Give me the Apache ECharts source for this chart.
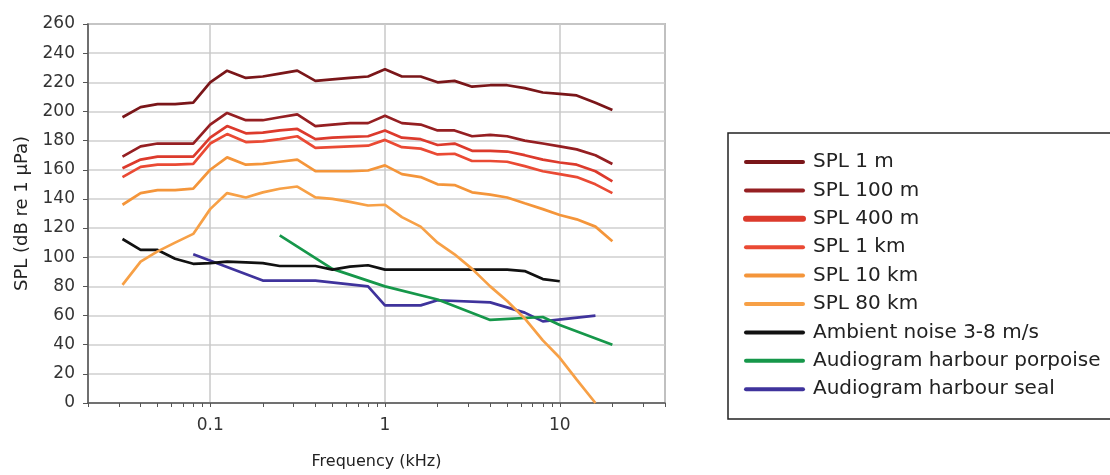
<!DOCTYPE html>
<html>
<head>
<meta charset="utf-8">
<script src="https://cdn.jsdelivr.net/npm/echarts@6/dist/echarts.min.js"></script>
<style>
html,body{margin:0;padding:0;background:#fff;}
#chart{width:1110px;height:475px;}
</style>
</head>
<body>
<div id="chart"></div>
<script>
// Third-octave band centre frequencies (kHz)
const freqs = [0.0315,0.04,0.05,0.063,0.08,0.1,0.125,0.16,0.2,0.25,0.315,0.4,0.5,0.63,0.8,1,1.25,1.6,2,2.5,3.15,4,5,6.3,8,10,12.5,16,20];

const spl1m   = [196,203,205,205,206,220,228,223,224,226,228,221,222,223,224,229,224,224,220,221,217,218,218,216,213,212,211,206,201];
const spl100m = [169,176,178,178,178,191,199,194,194,196,198,190,191,192,192,197,192,191,187,187,183,184,183,180,178,176,174,170,164];
const spl400m = [161,167,169,169,169,182,190,185,185.5,187,188,181,182,182.5,183,187,182,181,177,178,173,173,172.5,170,167,165,163.5,159,152];
const spl1km  = [155,162,163.5,163.5,164,178,184.5,179,179.5,181,183,175,175.5,176,176.5,180.5,175.5,174.5,170.5,171,166,166,165.5,162.5,159,157,155,150,144];
const spl10km = [136,144,146,146,147,160,168.5,163.5,164,165.5,167,159,159,159,159.5,163,157,155,150,149.5,144.5,143,141,137,133,129,126,121,111];
const spl80km = [81,97,104,110,116,133,144,141,144.5,147,148.5,141,140,138,135.5,136,127.5,121,110,102,92,80,70,58,43,31,16,0];
const ambient = [112.5,105,105,99,95.5,96,97,96.5,96,94,94,94,91.5,93.5,94.5,91.5,91.5,91.5,91.5,91.5,91.5,91.5,91.5,90.5,85,83.5];

const porpoiseFreqs = [0.25,0.5,1,2,4,8,10,20];
const porpoise      = [115,92,80,71,57,59,53.5,40];
const sealFreqs = [0.08,0.2,0.4,0.8,1,1.6,2,4,6.3,8,16];
const seal      = [102,84,84,80,67,67,70.5,69,62,56,60];

const seriesNames = ['SPL 1 m','SPL 100 m','SPL 400 m','SPL 1 km','SPL 10 km','SPL 80 km','Ambient noise 3-8 m/s','Audiogram harbour porpoise','Audiogram harbour seal'];
const seriesColors = ['#7a1619','#951f22','#dc3a2c','#ea4a34','#f4953a','#f7a046','#111111','#16974a','#3f339c'];

const xMajorLabels = [0.1,1,10];
const xMinorTicks = [0.03,0.04,0.05,0.06,0.07,0.08,0.09,0.2,0.3,0.4,0.5,0.6,0.7,0.8,0.9,2,3,4,5,6,7,8,9,20,30];

function pairs(xs, ys){ return ys.map((v,i)=>[xs[i], v]); }

const dataSets = [
  pairs(freqs, spl1m), pairs(freqs, spl100m), pairs(freqs, spl400m), pairs(freqs, spl1km),
  pairs(freqs, spl10km), pairs(freqs, spl80km), pairs(freqs, ambient),
  pairs(porpoiseFreqs, porpoise), pairs(sealFreqs, seal)
];

const FONT = 'DejaVu Sans';

const chart = echarts.init(document.getElementById('chart'), null, {renderer:'canvas'});
chart.setOption({
  animation:false,
  backgroundColor:'#ffffff',
  color: seriesColors,
  graphic:[{
    type:'rect', x:728, y:133, z:0,
    shape:{x:0, y:0, width:420, height:286},
    style:{fill:'#fff', stroke:'#222', lineWidth:1.5}
  }],
  grid:{left:88, right:445, top:24, bottom:66, show:true, borderColor:'#8a8a8a', borderWidth:1.5, containLabel:false},
  xAxis:[{
    type:'log', logBase:10, min:0.02, max:40,
    name:'Frequency (kHz)', nameLocation:'middle', nameGap:51,
    nameTextStyle:{fontFamily:FONT, fontSize:16, color:'#222'},
    axisLine:{show:true, onZero:false, lineStyle:{color:'#555', width:1.5}},
    axisTick:{show:true, length:4, lineStyle:{color:'#555', width:1}},
    axisLabel:{customValues:xMajorLabels, fontFamily:FONT, fontSize:17, color:'#333', margin:14,
      formatter:function(v){ return String(v); }},
    splitLine:{show:true, lineStyle:{color:'#c8c8c8', width:1.5}},
    minorTick:{show:false}, minorSplitLine:{show:false}
  },{
    type:'log', logBase:10, min:0.02, max:40, position:'bottom', gridIndex:0,
    axisLine:{show:false, onZero:false},
    axisTick:{show:true, customValues:xMinorTicks, length:4, lineStyle:{color:'#555', width:1}},
    axisLabel:{show:false},
    splitLine:{show:false}
  }],
  yAxis:{
    type:'value', min:0, max:260, interval:20,
    name:'SPL (dB re 1 µPa)', nameLocation:'middle', nameGap:56,
    nameTextStyle:{fontFamily:FONT, fontSize:18, color:'#222'},
    axisLine:{show:true, lineStyle:{color:'#555', width:1.5}},
    axisTick:{show:true, length:5, lineStyle:{color:'#555', width:1}},
    axisLabel:{fontFamily:FONT, fontSize:17, color:'#333', margin:13},
    splitLine:{show:true, lineStyle:{color:'#cfcfcf', width:1.5}}
  },
  legend:{
    orient:'vertical', left:728, top:133,
    borderWidth:0,
    padding:[19,5,19,15],
    itemWidth:57, itemHeight:14, itemGap:8.4,
    textStyle:{fontFamily:FONT, fontSize:20, color:'#222', lineHeight:20, padding:[0,0,0,5]},
    itemStyle:{opacity:0},
    lineStyle:{width:4, cap:'round'},
    data: seriesNames.map((n,i)=> i===2 ? {name:n, lineStyle:{width:6, cap:'round'}} : {name:n})
  },
  series: seriesNames.map((n,i)=>({
    name:n, type:'line', xAxisIndex:0, data:dataSets[i], showSymbol:false, symbol:'none',
    lineStyle:{width:2.7, color:seriesColors[i]}, itemStyle:{color:seriesColors[i]},
    z: 10 - i, clip:true
  }))
});
</script>
</body>
</html>
